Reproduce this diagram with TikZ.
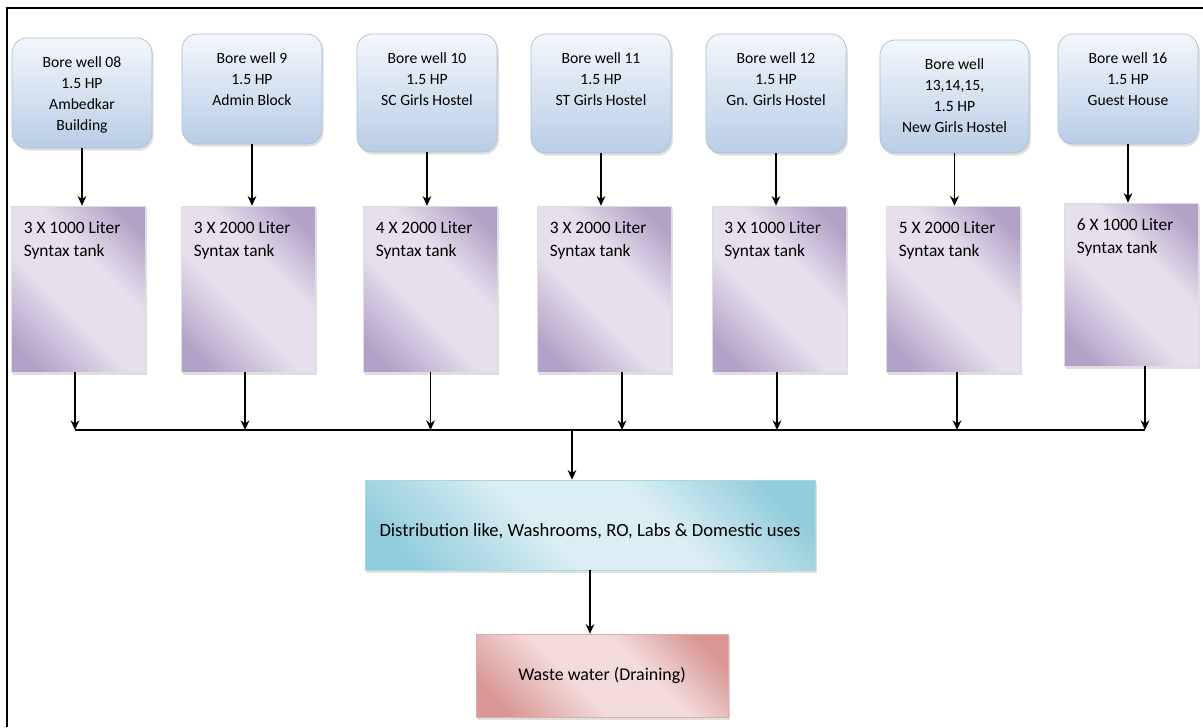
\documentclass[tikz,border=0pt]{standalone}
\usepackage{fontspec}
\setmainfont{Carlito}
\usepackage{xcolor}
\usetikzlibrary{positioning,shapes,arrows.meta,calc,shadows}
\definecolor{wellhi}{HTML}{F3F7FB}
\definecolor{welllo}{HTML}{B9CDE5}
\definecolor{wellrim}{HTML}{A7BFDD}
\definecolor{tankdk}{HTML}{B3A2C7}
\definecolor{tanklt}{HTML}{E6E0EC}
\definecolor{usedk}{HTML}{92CDDC}
\definecolor{uselt}{HTML}{DBEEF3}
\definecolor{draindk}{HTML}{D99694}
\definecolor{drainlt}{HTML}{F2DCDB}
\pgfdeclarehorizontalshading{tankfill}{100bp}{color(0bp)=(tankdk); color(22bp)=(tankdk); color(43bp)=(tanklt); color(60bp)=(tanklt); color(78bp)=(tankdk); color(100bp)=(tankdk)}
\pgfdeclarehorizontalshading{usefill}{100bp}{color(0bp)=(usedk); color(22bp)=(usedk); color(43bp)=(uselt); color(60bp)=(uselt); color(78bp)=(usedk); color(100bp)=(usedk)}
\pgfdeclarehorizontalshading{drainfill}{100bp}{color(0bp)=(draindk); color(22bp)=(draindk); color(43bp)=(drainlt); color(60bp)=(drainlt); color(78bp)=(draindk); color(100bp)=(draindk)}
\tikzset{%
	well/.style     = {draw=wellrim, thin, rounded corners=0.3cm, top color=wellhi,
		bottom color=welllo, minimum width=2.8cm,
		drop shadow={shadow xshift=1pt, shadow yshift=-1.5pt, opacity=.25}},
	welltext/.style = {anchor=north, yshift=-0.36cm, align=center, inner sep=0pt,
		font=\fontsize{8.9}{12}\selectfont},
	tank/.style     = {draw=white!60!tankdk, thin, shade, shading=tankfill, shading angle=45,
		minimum width=2.68cm, minimum height=3.32cm,
		drop shadow={shadow xshift=1pt, shadow yshift=-1.5pt, opacity=.25}},
	tanktext/.style = {anchor=north west, xshift=0.24cm, yshift=-0.3cm, align=left,
		inner sep=0pt, font=\fontsize{9.9}{13.5}\selectfont},
	usebox/.style   = {draw=usedk!80, thin, shade, shading=usefill, shading angle=45,
		minimum width=9cm, minimum height=1.8cm, text height=0.5cm,
		font=\fontsize{10.6}{12}\selectfont,
		drop shadow={shadow xshift=1pt, shadow yshift=-1.5pt, opacity=.25}},
	drainbox/.style = {draw=draindk!80, thin, shade, shading=drainfill, shading angle=45,
		minimum width=5.04cm, minimum height=1.66cm, font=\fontsize{10.2}{12}\selectfont,
		drop shadow={shadow xshift=1pt, shadow yshift=-1.5pt, opacity=.25}}
}
\begin{document}
\begin{tikzpicture}[x=0.02cm, y=-0.02cm, line width=0.7pt,
          >={Stealth[length=5.5pt,width=5pt]}]
        \useasboundingbox (0,0) rectangle (1203,727);
        \draw[line width=1.4pt] (7,727) -- (7,8) -- (1203,8);
        \draw
            node at (82,93)[well, minimum height=2.2cm, name=bw8,
                label={[welltext]north:Bore well 08\\1.5 HP\\Ambedkar\\Building}]{}
            node at (252,89)[well, minimum height=2.2cm, name=bw9,
                label={[welltext]north:Bore well 9\\1.5 HP\\Admin Block}]{}
            node at (427,93)[well, minimum height=2.36cm, name=bw10,
                label={[welltext]north:Bore well 10\\1.5 HP\\SC Girls Hostel}]{}
            node at (601,93.5)[well, minimum height=2.38cm, name=bw11,
                label={[welltext]north:Bore well 11\\1.5 HP\\ST Girls Hostel}]{}
            node at (776,93.5)[well, minimum height=2.38cm, name=bw12,
                label={[welltext]north:Bore well 12\\1.5 HP\\Gn. Girls Hostel}]{}
            node at (954.5,96.5)[well, minimum width=2.98cm, minimum height=2.26cm, name=bw13,
                label={[welltext]north:{Bore well\\13,14,15,\\1.5 HP\\New Girls Hostel}}]{}
            node at (1128,89)[well, minimum height=2.2cm, name=bw16,
                label={[welltext]north:Bore well 16\\1.5 HP\\Guest House}]{}

            node at (78.5,289)[tank, name=tk8,
                label={[tanktext]north west:3 X 1000 Liter\\Syntax tank}]{}
            node at (248.5,289)[tank, name=tk9,
                label={[tanktext]north west:3 X 2000 Liter\\Syntax tank}]{}
            node at (430.5,289)[tank, name=tk10,
                label={[tanktext]north west:4 X 2000 Liter\\Syntax tank}]{}
            node at (604.5,289)[tank, name=tk11,
                label={[tanktext]north west:3 X 2000 Liter\\Syntax tank}]{}
            node at (779,289)[tank, name=tk12,
                label={[tanktext]north west:3 X 1000 Liter\\Syntax tank}]{}
            node at (953.5,289)[tank, name=tk13,
                label={[tanktext]north west:5 X 2000 Liter\\Syntax tank}]{}
            node at (1131.5,284.5)[tank, minimum height=3.26cm, name=tk16,
                label={[tanktext]north west:6 X 1000 Liter\\Syntax tank}]{}

            node at (590,525)[usebox, name=dist]{Distribution like, Washrooms, RO, Labs \& Domestic uses}
            node at (602,675.5)[drainbox, name=waste]{Waste water (Draining)};

        % wells into tanks
        \foreach \w/\t in {bw8/tk8, bw9/tk9, bw10/tk10, bw11/tk11, bw12/tk12, bw13/tk13, bw16/tk16}
            \draw[->] (\w.south) -- (\w.south |- \t.north);

        % tanks into the common line
        \coordinate (bus) at (0,430);
        \foreach \t/\s in {tk8/-0.07, tk9/-0.07, tk10/0, tk11/0.35, tk12/-0.04, tk13/0.07, tk16/0.27}
            \draw[->] ([xshift=\s cm]\t.south) -- ([xshift=\s cm]\t.south |- bus);
        \draw ([xshift=-0.07cm]tk8.south |- bus) -- ([xshift=0.27cm]tk16.south |- bus);

        \draw[->] ([xshift=-0.36cm]dist.north |- bus) -- ([xshift=-0.36cm]dist.north);
        \draw[->] (dist.south) -- (dist.south |- waste.north);
    \end{tikzpicture}
\end{document}
